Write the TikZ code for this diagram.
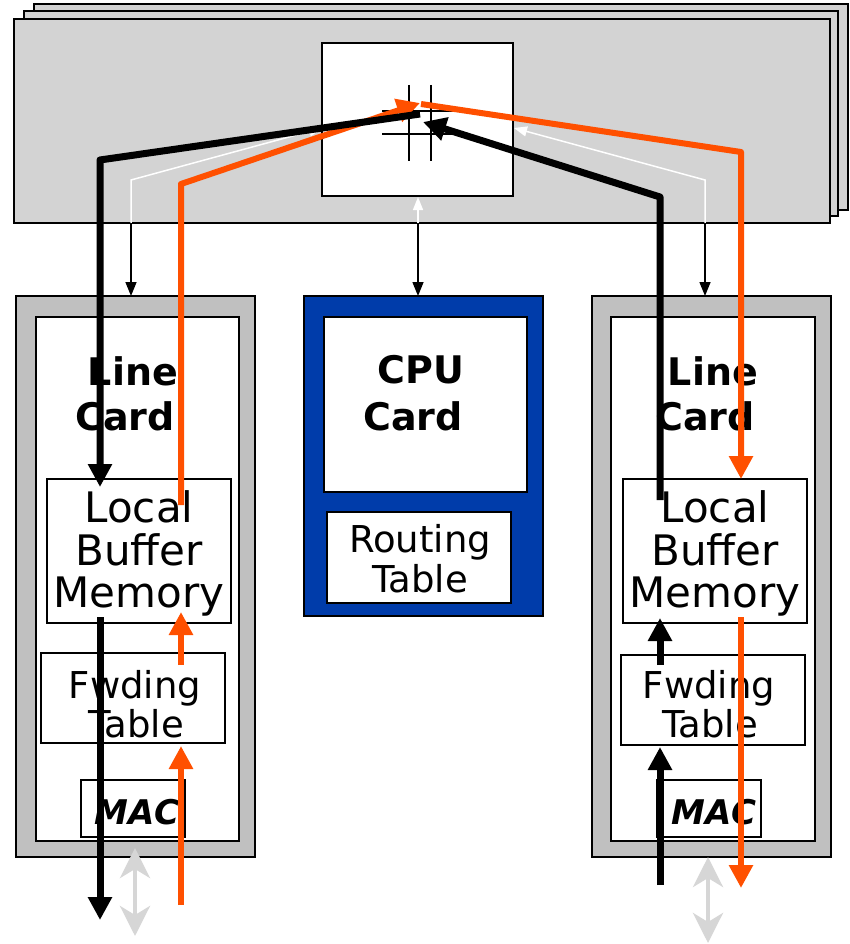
\documentclass[tikz,border=0pt]{standalone}
\usepackage{fontspec}
\setmainfont{DejaVu Sans}
\usetikzlibrary{arrows.meta}
\definecolor{bpgray}{RGB}{211,211,211}
\definecolor{lcgray}{RGB}{192,192,192}
\definecolor{cpublue}{RGB}{0,60,170}
\definecolor{pathorange}{RGB}{255,80,0}
\definecolor{lightarrow}{RGB}{214,214,214}
\begin{document}
\begin{tikzpicture}[x=1pt,y=-1pt,
  box/.style={draw=black, line width=1.5pt, fill=white, anchor=north west, inner sep=0pt, outer sep=0pt},
  plate/.style={box, fill=bpgray},
  lbl/.style={anchor=base, inner sep=0pt},
  boldlbl/.style={lbl, font=\fontsize{38}{38}\selectfont\bfseries},
  buflbl/.style={lbl, font=\fontsize{42}{42}\selectfont},
  tbllbl/.style={lbl, font=\fontsize{37}{37}\selectfont},
  maclbl/.style={lbl, font=\fontsize{34}{34}\selectfont\bfseries\itshape},
  blackflow/.style={draw=black, line width=7pt, line join=round, -{Triangle[length=23pt,width=23pt]}},
  orangeflow/.style={draw=pathorange, line width=6pt, line join=round, -{Triangle[length=23pt,width=23pt]}},
  thinlink/.style={draw=black, line width=1.5pt, -{Triangle[length=14pt,width=11pt]}},
  whitelink/.style={draw=white, line width=1.5pt, -{Triangle[length=13pt,width=10pt]}},
  portlink/.style={draw=lightarrow, line width=4.5pt, {Stealth[length=30pt,width=30pt,inset=9pt]}-{Stealth[length=30pt,width=30pt,inset=9pt]}}
]
\useasboundingbox (0,0) rectangle (850,944);

% backplane stack
\node[plate, minimum width=814pt, minimum height=206pt] (bp3) at (34,4) {};
\node[plate, minimum width=814pt, minimum height=205pt] (bp2) at (24,11) {};
\node[plate, minimum width=816pt, minimum height=204pt] (bp1) at (14,19) {};
\node[box, minimum width=191pt, minimum height=153pt] (xbar) at (322,43) {};

% crossbar symbol
\draw[line width=2pt] (409,85) -- (409,161);
\draw[line width=2pt] (431,85) -- (431,161);
\draw[line width=2pt] (382,111) -- (458,111);
\draw[line width=2pt] (382,134) -- (458,134);

% left line card
\node[box, fill=lcgray, minimum width=239pt, minimum height=561pt] (lcL) at (16,296) {};
\node[box, minimum width=203pt, minimum height=524pt] (lcLin) at (36,317) {};
\node[box, minimum width=184pt, minimum height=144pt] (lbmL) at (47,479) {};
\node[box, minimum width=184pt, minimum height=90pt] (ftL) at (41,653) {};
\node[box, minimum width=104pt, minimum height=57pt] (macL) at (81,780) {};

% cpu card
\node[box, fill=cpublue, minimum width=239pt, minimum height=320pt] (cpu) at (304,296) {};
\node[box, minimum width=203pt, minimum height=175pt] (cpuin) at (324,317) {};
\node[box, minimum width=184pt, minimum height=91pt] (rt) at (327,512) {};

% right line card
\node[box, fill=lcgray, minimum width=239pt, minimum height=561pt] (lcR) at (592,296) {};
\node[box, minimum width=204pt, minimum height=524pt] (lcRin) at (611,317) {};
\node[box, minimum width=184pt, minimum height=144pt] (lbmR) at (623,479) {};
\node[box, minimum width=184pt, minimum height=90pt] (ftR) at (621,655) {};
\node[box, minimum width=104pt, minimum height=57pt] (macR) at (657,780) {};

% texts
\node[boldlbl] (tLineL) at (133,385) {Line};
\node[boldlbl] (tCardL) at (125,430) {Card};
\node[boldlbl] (tLineR) at (713,385) {Line};
\node[boldlbl] (tCardR) at (705,430) {Card};
\node[boldlbl] (tCPU) at (421,383) {CPU};
\node[boldlbl] (tCPUCard) at (413,430) {Card};
\node[tbllbl] (tRouting) at (420,552) {Routing};
\node[tbllbl] (tRTable) at (420,592) {Table};
\node[buflbl] (tLocalL) at (139,522) {Local};
\node[buflbl] (tBufferL) at (139,565) {Buffer};
\node[buflbl] (tMemoryL) at (139,607) {Memory};
\node[buflbl] (tLocalR) at (715,522) {Local};
\node[buflbl] (tBufferR) at (715,565) {Buffer};
\node[buflbl] (tMemoryR) at (715,607) {Memory};
\node[tbllbl] (tFwdL) at (135,698) {Fwding};
\node[tbllbl] (tFTabL) at (136,737) {Table};
\node[tbllbl] (tFwdR) at (709,698) {Fwding};
\node[tbllbl] (tFTabR) at (710,737) {Table};
\node[maclbl] (tMacL) at (137,824) {MAC};
\node[maclbl] (tMacR) at (714,824) {MAC};

% coordinates
\coordinate (wL0) at (131,223);
\coordinate (wL1) at (131,180);
\coordinate (wL2) at (322,128);
\coordinate (wR0) at (705,223);
\coordinate (wR1) at (705,180);
\coordinate (wR2) at (514,128);
\coordinate (wC0) at (418,223);
\coordinate (wC1) at (418,197);
\coordinate (kL) at (131,296);
\coordinate (kR) at (705,296);
\coordinate (kC) at (418,296);

\coordinate (hubBL) at (420,114);
\coordinate (hubOL) at (420,103);
\coordinate (hubOR) at (421,104);
\coordinate (hubBR) at (423,122);
\coordinate (bLc) at (100,160);
\coordinate (bLin) at (100,487);
\coordinate (bLout0) at (100,617);
\coordinate (bLout1) at (100,920);
\coordinate (oLin0) at (181,905);
\coordinate (oLin1) at (181,746);
\coordinate (oLmid0) at (181,665);
\coordinate (oLmid1) at (181,612);
\coordinate (oLup0) at (181,505);
\coordinate (oLc) at (181,184);
\coordinate (oRc) at (741,152);
\coordinate (oRin) at (741,479);
\coordinate (oRout0) at (741,617);
\coordinate (oRout1) at (741,888);
\coordinate (bRup0) at (660,500);
\coordinate (bRc) at (660,197);
\coordinate (bRin0) at (660,885);
\coordinate (bRin1) at (660,747);
\coordinate (bRmid0) at (660,665);
\coordinate (bRmid1) at (660,618);
\coordinate (gL0) at (135,848);
\coordinate (gL1) at (135,936);
\coordinate (gR0) at (708,857);
\coordinate (gR1) at (708,943);

% thin control links
\draw[whitelink] (wL0) -- (wL1) -- (wL2);
\draw[whitelink] (wR0) -- (wR1) -- (wR2);
\draw[whitelink] (wC0) -- (wC1);
\draw[thinlink] (wL0) -- (kL);
\draw[thinlink] (wR0) -- (kR);
\draw[thinlink] (wC0) -- (kC);

% data flows
\draw[orangeflow] (oLup0) -- (oLc) -- (hubOL);
\draw[orangeflow] (hubOR) -- (oRc) -- (oRin);
\draw[blackflow] (hubBL) -- (bLc) -- (bLin);
\draw[blackflow] (bRup0) -- (bRc) -- (hubBR);
\draw[blackflow] (bLout0) -- (bLout1);
\draw[orangeflow] (oLin0) -- (oLin1);
\draw[orangeflow] (oLmid0) -- (oLmid1);
\draw[orangeflow] (oRout0) -- (oRout1);
\draw[blackflow] (bRin0) -- (bRin1);
\draw[blackflow] (bRmid0) -- (bRmid1);

% external ports
\draw[portlink] (gL0) -- (gL1);
\draw[portlink] (gR0) -- (gR1);
\end{tikzpicture}
\end{document}
